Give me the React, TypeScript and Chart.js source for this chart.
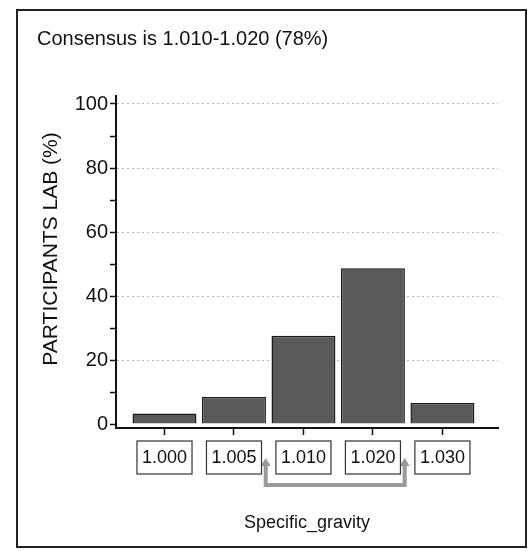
import React, { useEffect, useRef } from "react";
import { Chart, registerables } from "chart.js";

Chart.register(...registerables);

const titleText = "Consensus is 1.010-1.020 (78%)";
const categories = ["1.000", "1.005", "1.010", "1.020", "1.030"];
const values = [3.3, 8.4, 27.6, 48.7, 6.6];
const yTickLabels = [0, 20, 40, 60, 80, 100];
const consensusRange = [2, 3];
const xTitle = "Specific_gravity";
const yTitle = "PARTICIPANTS LAB (%)";

const FONT = "'Liberation Sans', Arial, Helvetica, sans-serif";

const decorPlugin = {
  id: "decor",
  afterDraw(chart: any) {
    const ctx = chart.ctx as CanvasRenderingContext2D;
    const xs = chart.scales.x;
    const area = chart.chartArea;
    ctx.save();
    // outer frame
    ctx.strokeStyle = "#222";
    ctx.lineWidth = 2;
    ctx.strokeRect(17, 10, 509, 537);

    // title
    ctx.fillStyle = "#111";
    ctx.font = `20px ${FONT}`;
    ctx.textAlign = "left";
    ctx.textBaseline = "alphabetic";
    ctx.fillText(titleText, 37, 45);

    // y title
    ctx.save();
    ctx.translate(57, 249);
    ctx.rotate(-Math.PI / 2);
    ctx.font = `21px ${FONT}`;
    ctx.textAlign = "center";
    ctx.fillText(yTitle, 0, 0);
    ctx.restore();

    // arrow under consensus labels
    const ax1 = xs.getPixelForValue(consensusRange[0] - 0.5) - 3;
    const ax2 = xs.getPixelForValue(consensusRange[1] + 0.5) - 3;
    const ay = 485;
    const tipY = 458;
    ctx.strokeStyle = "#9a9a9a";
    ctx.lineWidth = 4;
    ctx.lineJoin = "miter";
    ctx.beginPath();
    ctx.moveTo(ax1, tipY + 7);
    ctx.lineTo(ax1, ay);
    ctx.lineTo(ax2, ay);
    ctx.lineTo(ax2, tipY + 7);
    ctx.stroke();
    ctx.fillStyle = "#9a9a9a";
    for (const ax of [ax1, ax2]) {
      ctx.beginPath();
      ctx.moveTo(ax, tipY);
      ctx.lineTo(ax - 5, tipY + 8);
      ctx.lineTo(ax + 5, tipY + 8);
      ctx.closePath();
      ctx.fill();
    }

    // boxed x labels
    ctx.font = `18px ${FONT}`;
    ctx.textAlign = "center";
    ctx.textBaseline = "middle";
    categories.forEach((lab, i) => {
      const cx = xs.getPixelForValue(i);
      const w = ctx.measureText(lab).width + 10;
      const h = 33;
      const top = 441;
      ctx.fillStyle = "#fff";
      ctx.fillRect(cx - w / 2, top, w, h);
      ctx.strokeStyle = "#333";
      ctx.lineWidth = 1.2;
      ctx.strokeRect(cx - w / 2, top, w, h);
      ctx.fillStyle = "#111";
      ctx.fillText(lab, cx, top + h / 2 + 1);
    });

    // x title
    ctx.font = `18px ${FONT}`;
    ctx.textAlign = "center";
    ctx.textBaseline = "alphabetic";
    ctx.fillStyle = "#111";
    ctx.fillText(xTitle, (area.left + area.right) / 2, 528);
    ctx.restore();
  },
};

export default function App() {
  const ref = useRef<HTMLCanvasElement | null>(null);
  useEffect(() => {
    if (!ref.current) return;
    const chart = new Chart(ref.current, {
      type: "bar",
      data: {
        datasets: [
          {
            data: values.map((v, i) => ({ x: i, y: v })),
            backgroundColor: "#595959",
            borderColor: "#1a1a1a",
            borderWidth: 1.5,
            barPercentage: 0.92,
            categoryPercentage: 1,
          },
        ],
      },
      options: {
        animation: false,
        responsive: false,
        devicePixelRatio: 1,
        layout: { padding: { left: 0, top: 96, right: 32, bottom: 0 } },
        plugins: {
          legend: { display: false },
          tooltip: { enabled: false },
          title: { display: false },
        },
        scales: {
          x: {
            type: "linear",
            offset: false,
            min: -0.698,
            max: 4.8,
            afterBuildTicks: (s: any) => {
              s.ticks = categories.map((_, i) => ({ value: i }));
            },
            afterFit: (s: any) => {
              s.height = 123;
            },
            ticks: { display: false },
            grid: {
              offset: false,
              drawOnChartArea: false,
              drawTicks: true,
              tickLength: 7,
              tickColor: "#111",
              tickWidth: 1.5,
            },
            border: { display: true, color: "#111", width: 2 },
          },
          y: {
            type: "linear",
            min: -1.25,
            max: 102.5,
            afterFit: (s: any) => {
              s.width = 116;
            },
            afterBuildTicks: (s: any) => {
              const t: any[] = [];
              for (let v = 0; v <= 100; v += 10) t.push({ value: v });
              s.ticks = t;
            },
            ticks: {
              autoSkip: false,
              padding: 2,
              color: "#111",
              font: { family: FONT, size: 20 },
              callback: (v: any) =>
                yTickLabels.includes(Number(v)) ? String(v) : "",
            },
            grid: {
              color: (c: any) =>
                c.tick && c.tick.value > 0 && c.tick.value % 20 === 0
                  ? "#b5b5b5"
                  : "rgba(0,0,0,0)",
              lineWidth: 1,
              drawTicks: true,
              tickLength: 6,
              tickColor: "#111",
              tickWidth: 1.5,
            },
            border: { display: true, color: "#111", width: 2, dash: [2, 3] },
          },
        },
      },
      plugins: [decorPlugin],
    });
    return () => chart.destroy();
  }, []);
  return (
    <div
      style={{
        position: "fixed",
        left: 0,
        top: 0,
        width: 530,
        height: 551,
        background: "#fff",
      }}
    >
      <canvas ref={ref} width={530} height={551} />
    </div>
  );
}
